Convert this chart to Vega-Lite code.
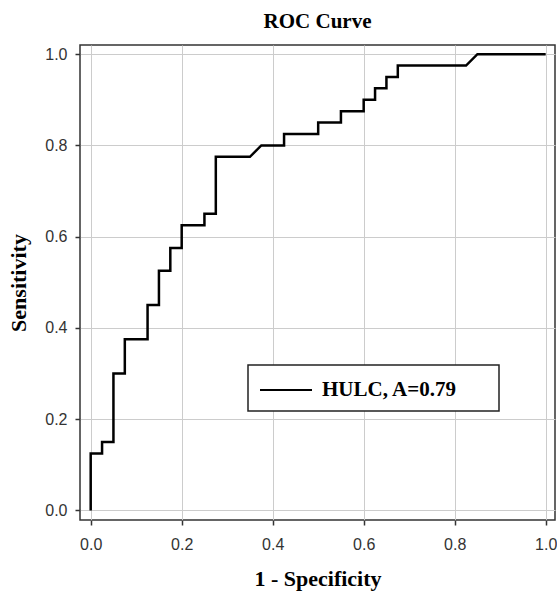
{
  "$schema": "https://vega.github.io/schema/vega-lite/v6.json",
  "width": 475,
  "height": 475,
  "autosize": "none",
  "padding": {"left": 80, "top": 45, "right": 2, "bottom": 71},
  "background": "white",
  "title": {
    "text": "ROC Curve",
    "font": "Liberation Serif",
    "fontSize": 21,
    "fontWeight": "bold",
    "color": "#000000",
    "anchor": "middle",
    "offset": 13
  },
  "data": {
    "values": [
      {"order": 0, "fpr": 0, "tpr": 0, "series": "HULC, A=0.79"},
      {"order": 1, "fpr": 0, "tpr": 0.125, "series": "HULC, A=0.79"},
      {"order": 2, "fpr": 0.025, "tpr": 0.125, "series": "HULC, A=0.79"},
      {"order": 3, "fpr": 0.025, "tpr": 0.15, "series": "HULC, A=0.79"},
      {"order": 4, "fpr": 0.05, "tpr": 0.15, "series": "HULC, A=0.79"},
      {"order": 5, "fpr": 0.05, "tpr": 0.3, "series": "HULC, A=0.79"},
      {"order": 6, "fpr": 0.075, "tpr": 0.3, "series": "HULC, A=0.79"},
      {"order": 7, "fpr": 0.075, "tpr": 0.375, "series": "HULC, A=0.79"},
      {"order": 8, "fpr": 0.125, "tpr": 0.375, "series": "HULC, A=0.79"},
      {"order": 9, "fpr": 0.125, "tpr": 0.45, "series": "HULC, A=0.79"},
      {"order": 10, "fpr": 0.15, "tpr": 0.45, "series": "HULC, A=0.79"},
      {"order": 11, "fpr": 0.15, "tpr": 0.525, "series": "HULC, A=0.79"},
      {"order": 12, "fpr": 0.175, "tpr": 0.525, "series": "HULC, A=0.79"},
      {"order": 13, "fpr": 0.175, "tpr": 0.575, "series": "HULC, A=0.79"},
      {"order": 14, "fpr": 0.2, "tpr": 0.575, "series": "HULC, A=0.79"},
      {"order": 15, "fpr": 0.2, "tpr": 0.625, "series": "HULC, A=0.79"},
      {"order": 16, "fpr": 0.25, "tpr": 0.625, "series": "HULC, A=0.79"},
      {"order": 17, "fpr": 0.25, "tpr": 0.65, "series": "HULC, A=0.79"},
      {"order": 18, "fpr": 0.275, "tpr": 0.65, "series": "HULC, A=0.79"},
      {"order": 19, "fpr": 0.275, "tpr": 0.775, "series": "HULC, A=0.79"},
      {"order": 20, "fpr": 0.35, "tpr": 0.775, "series": "HULC, A=0.79"},
      {"order": 21, "fpr": 0.375, "tpr": 0.8, "series": "HULC, A=0.79"},
      {"order": 22, "fpr": 0.425, "tpr": 0.8, "series": "HULC, A=0.79"},
      {"order": 23, "fpr": 0.425, "tpr": 0.825, "series": "HULC, A=0.79"},
      {"order": 24, "fpr": 0.5, "tpr": 0.825, "series": "HULC, A=0.79"},
      {"order": 25, "fpr": 0.5, "tpr": 0.85, "series": "HULC, A=0.79"},
      {"order": 26, "fpr": 0.55, "tpr": 0.85, "series": "HULC, A=0.79"},
      {"order": 27, "fpr": 0.55, "tpr": 0.875, "series": "HULC, A=0.79"},
      {"order": 28, "fpr": 0.6, "tpr": 0.875, "series": "HULC, A=0.79"},
      {"order": 29, "fpr": 0.6, "tpr": 0.9, "series": "HULC, A=0.79"},
      {"order": 30, "fpr": 0.625, "tpr": 0.9, "series": "HULC, A=0.79"},
      {"order": 31, "fpr": 0.625, "tpr": 0.925, "series": "HULC, A=0.79"},
      {"order": 32, "fpr": 0.65, "tpr": 0.925, "series": "HULC, A=0.79"},
      {"order": 33, "fpr": 0.65, "tpr": 0.95, "series": "HULC, A=0.79"},
      {"order": 34, "fpr": 0.675, "tpr": 0.95, "series": "HULC, A=0.79"},
      {"order": 35, "fpr": 0.675, "tpr": 0.975, "series": "HULC, A=0.79"},
      {"order": 36, "fpr": 0.825, "tpr": 0.975, "series": "HULC, A=0.79"},
      {"order": 37, "fpr": 0.85, "tpr": 1.0, "series": "HULC, A=0.79"},
      {"order": 38, "fpr": 1.0, "tpr": 1.0, "series": "HULC, A=0.79"}
    ]
  },
  "mark": {"type": "line", "strokeWidth": 2.5, "strokeJoin": "miter", "strokeCap": "butt"},
  "encoding": {
    "x": {
      "field": "fpr",
      "type": "quantitative",
      "scale": {"domain": [-0.0235, 1.0205], "nice": false, "zero": false},
      "axis": {
        "title": "1 - Specificity",
        "values": [0, 0.2, 0.4, 0.6, 0.8, 1.0],
        "format": ".1f",
        "tickSize": 5,
        "labelPadding": 11,
        "titlePadding": 16
      }
    },
    "y": {
      "field": "tpr",
      "type": "quantitative",
      "scale": {"domain": [-0.021, 1.02], "nice": false, "zero": false},
      "axis": {
        "title": "Sensitivity",
        "values": [0, 0.2, 0.4, 0.6, 0.8, 1.0],
        "format": ".1f",
        "tickSize": 5,
        "labelPadding": 8,
        "titlePadding": 14
      }
    },
    "order": {"field": "order", "type": "quantitative"},
    "color": {
      "field": "series",
      "type": "nominal",
      "scale": {"range": ["#000000"]},
      "legend": {
        "title": null,
        "orient": "none",
        "legendX": 168,
        "legendY": 320,
        "direction": "vertical",
        "symbolType": "M-2,0L2,0",
        "symbolSize": 676,
        "symbolStrokeWidth": 2,
        "symbolOffset": 13,
        "labelFont": "Liberation Serif",
        "labelFontSize": 21,
        "labelFontWeight": "bold",
        "labelColor": "#000000",
        "labelOffset": 22,
        "labelLimit": 400,
        "labelExpr": "datum.label + '\u2800\u2800'",
        "fillColor": "#ffffff",
        "strokeColor": "#222222",
        "padding": 11
      }
    }
  },
  "config": {
    "view": {"stroke": "#333333", "strokeWidth": 1.5},
    "legend": {"strokeWidth": 1.5},
    "axis": {
      "domain": false,
      "grid": true,
      "gridColor": "#cccccc",
      "gridWidth": 1,
      "tickColor": "#333333",
      "tickWidth": 1.5,
      "labelFont": "Liberation Sans",
      "labelFontSize": 16,
      "labelColor": "#333333",
      "titleFont": "Liberation Serif",
      "titleFontSize": 22,
      "titleFontWeight": "bold",
      "titleColor": "#000000"
    }
  }
}
